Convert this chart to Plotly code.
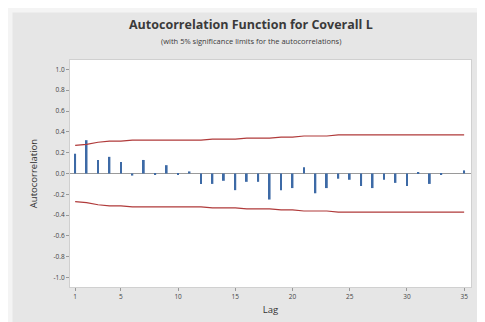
import plotly.graph_objects as go

lags = list(range(1, 36))
acf = [0.19, 0.32, 0.13, 0.16, 0.11, -0.02, 0.13, -0.01, 0.08, -0.01,
       0.02, -0.10, -0.10, -0.07, -0.16, -0.08, -0.08, -0.25, -0.16, -0.14,
       0.06, -0.19, -0.14, -0.05, -0.06, -0.12, -0.14, -0.06, -0.09, -0.12,
       0.01, -0.10, -0.01, 0.00, 0.03]
upper = [0.27, 0.28, 0.30, 0.31, 0.31, 0.32, 0.32, 0.32, 0.32, 0.32,
         0.32, 0.32, 0.33, 0.33, 0.33, 0.34, 0.34, 0.34, 0.35, 0.35,
         0.36, 0.36, 0.36, 0.37, 0.37, 0.37, 0.37, 0.37, 0.37, 0.37,
         0.37, 0.37, 0.37, 0.37, 0.37]
lower = [-v for v in upper]
xticks = [1, 5, 10, 15, 20, 25, 30, 35]
yticks = [1.0, 0.8, 0.6, 0.4, 0.2, 0.0, -0.2, -0.4, -0.6, -0.8, -1.0]

fig = go.Figure()
fig.add_trace(go.Bar(x=lags, y=acf, width=0.16,
                     marker=dict(color="#3d6aa6", line=dict(width=0))))
fig.add_trace(go.Scatter(x=lags, y=upper, mode="lines",
                         line=dict(color="#b03a3a", width=1.2)))
fig.add_trace(go.Scatter(x=lags, y=lower, mode="lines",
                         line=dict(color="#b03a3a", width=1.2)))

W, H = 485, 322
L, R, T, B = 62, 22, 52, 43
pw, ph = W - L - R, H - T - B

def px(xp):
    return (xp - L) / pw

def py(yp):
    return (H - B - yp) / ph

fig.update_layout(
    width=W, height=H,
    margin=dict(l=L, r=R, t=T, b=B),
    paper_bgcolor="#e6e6e6",
    plot_bgcolor="white",
    showlegend=False,
    font=dict(family="Open Sans, DejaVu Sans, sans-serif", color="#333333"),
    shapes=[
        dict(type="rect", xref="paper", yref="paper", layer="above",
             x0=px(2), x1=px(W - 2), y0=py(H - 2), y1=py(2),
             fillcolor="rgba(0,0,0,0)", line=dict(color="#f4f4f4", width=5)),
        dict(type="rect", xref="paper", yref="paper", layer="above",
             x0=px(W - 14), x1=px(W), y0=py(H), y1=py(0),
             fillcolor="#f4f4f4", line=dict(width=0)),
        dict(type="line", xref="paper", yref="y", x0=0, x1=1, y0=0, y1=0,
             line=dict(color="#9a9a9a", width=1), layer="below"),
    ],
    annotations=[
        dict(text="<b>Autocorrelation Function for Coverall L</b>",
             xref="paper", yref="paper", x=px(243), y=py(16),
             showarrow=False, font=dict(size=12.5, color="#3a3a3a"),
             xanchor="center", yanchor="middle"),
        dict(text="(with 5% significance limits for the autocorrelations)",
             xref="paper", yref="paper", x=px(243), y=py(33),
             showarrow=False, font=dict(size=7.5, color="#3a3a3a"),
             xanchor="center", yanchor="middle"),
    ],
    xaxis=dict(range=[0.55, 35.6], tickvals=xticks,
               ticktext=[str(v) for v in xticks],
               showgrid=False, zeroline=False, ticks="outside",
               ticklen=3, tickcolor="#999999",
               tickfont=dict(size=6.5, color="#444444"),
               showline=True, linecolor="#d0d0d0", linewidth=1, mirror=True,
               title=dict(text="Lag", font=dict(size=9.5, color="#333333"),
                          standoff=6)),
    yaxis=dict(range=[-1.09, 1.09], tickvals=yticks,
               ticktext=[f"{v:.1f}" for v in yticks],
               showgrid=False, zeroline=False, ticks="outside",
               ticklen=3, tickcolor="#999999",
               tickfont=dict(size=6.5, color="#444444"),
               showline=True, linecolor="#d0d0d0", linewidth=1, mirror=True,
               title=dict(text="Autocorrelation",
                          font=dict(size=9.5, color="#333333"), standoff=14)),
)

fig.write_html("out.html")
